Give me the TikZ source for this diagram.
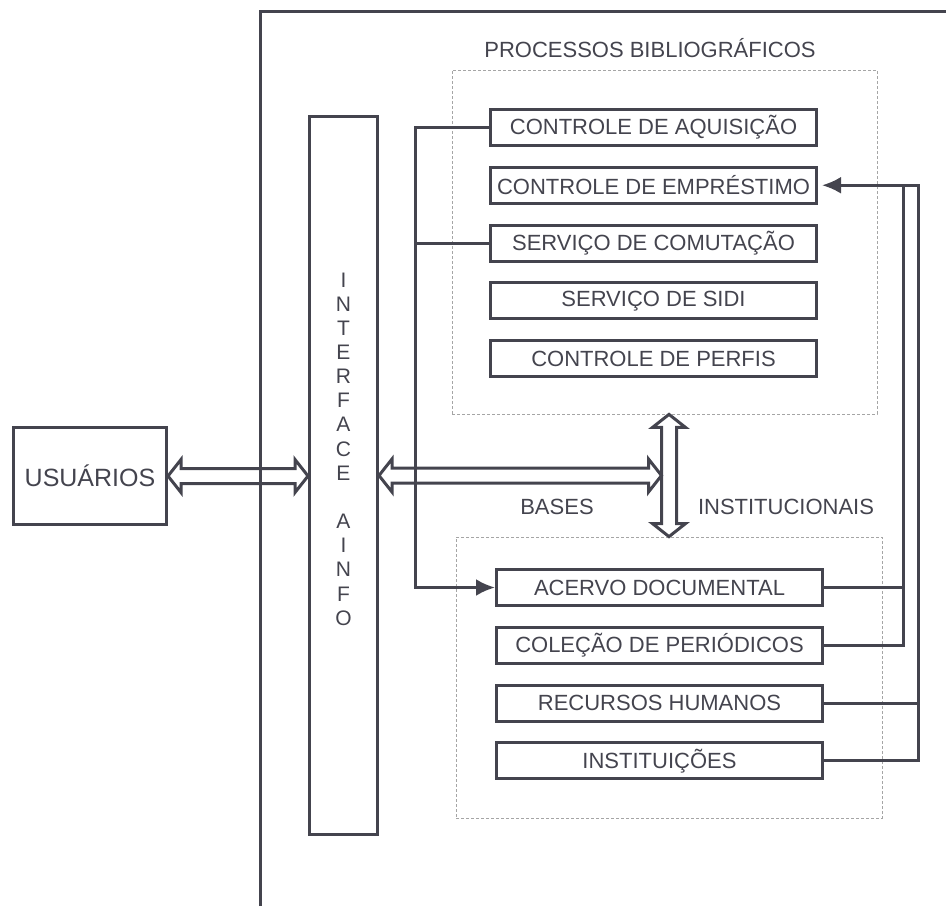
\documentclass[tikz,border=0pt]{standalone}
\usepackage{fontspec}
\setmainfont{Liberation Sans}
\usetikzlibrary{arrows.meta, positioning, calc}
\definecolor{ink}{RGB}{68,68,78}
\definecolor{dashgray}{RGB}{165,165,165}

\begin{document}
\begin{tikzpicture}[x=1pt, y=-1pt,
            node distance=18.75pt,
            every node/.style={text=ink, font=\fontsize{22}{26}\selectfont},
            block/.style={rectangle, draw=ink, line width=3pt, minimum width=326pt, minimum height=36pt, inner sep=0pt},
            group/.style={rectangle, draw=dashgray, line width=0.8pt, dash pattern=on 3pt off 2pt},
            link/.style={draw=ink, line width=3pt},
            arrow/.style={link, -{Latex[length=19pt, width=17pt]}},
            hollow/.style={draw=ink, line width=3pt, line join=miter}]
            \useasboundingbox (0,0) rectangle (946,906);
            % nodes
            \node [block, minimum width=153pt, minimum height=97pt, font=\fontsize{25}{28}\selectfont] (usuarios) at (90,476) {USUÁRIOS};
            \node [block, minimum width=68pt, minimum height=718pt] (interface) at (343.5,475.5) {};
            \node [align=center, font=\fontsize{21}{24.15}\selectfont] (ainfo) at ([yshift=26.5pt]interface.center) {I\\N\\T\\E\\R\\F\\A\\C\\E\\[24.15pt]A\\I\\N\\F\\O};
            % processos
            \node [group, minimum width=425pt, minimum height=344pt] (procbox) at (664.5,242) {};
            \node (proctitle) at (650,48) {PROCESSOS BIBLIOGRÁFICOS};
            \node [block] (aquis) at (653.5,127.5) {CONTROLE DE AQUISIÇÃO};
            \node [block, below=of aquis] (emprest) {CONTROLE DE EMPRÉSTIMO};
            \node [block, below=of emprest] (comut) {SERVIÇO DE COMUTAÇÃO};
            \node [block, below=of comut] (sidi) {SERVIÇO DE SIDI};
            \node [block, below=of sidi] (perfis) {CONTROLE DE PERFIS};
            % bases
            \node [group, minimum width=426pt, minimum height=281pt] (basebox) at (669,677.5) {};
            \node (basestitle) at (557,507) {BASES};
            \node (insttitle) at (786,507) {INSTITUCIONAIS};
            \node [block] (acervo) at (659.5,587.5) {ACERVO DOCUMENTAL};
            \node [block, below=of acervo] (colecao) {COLEÇÃO DE PERIÓDICOS};
            \node [block, below=of colecao] (recursos) {RECURSOS HUMANOS};
            \node [block, below=of recursos] (instit) {INSTITUIÇÕES};
            % frame
            \draw [link] (260,906) -- (260,11) -- (946,11);
            % double arrows
            \coordinate (vtop) at ([xshift=4.5pt]procbox.south);
            \coordinate (vbot) at (basebox.north);
            \coordinate (usrtip) at (interface.west |- usuarios.east);
            \coordinate (midtip) at ($(vtop |- interface.east)+(-7.5,0)$);
            \draw [hollow] (vtop) -- ++(16.5,13) -- ++(-9,0) -- ($(vbot)+(7.5,-13)$) -- ++(9,0) -- (vbot)
                -- ++(-16.5,-13) -- ++(9,0) -- ($(vtop)+(-7.5,13)$) -- ++(-9,0) -- cycle;
            \draw [hollow] (usuarios.east) -- ++(13,-16.5) -- ++(0,9) -- ($(usrtip)+(-13,-7.5)$) -- ++(0,-9) -- (usrtip)
                -- ++(-13,16.5) -- ++(0,-9) -- ($(usuarios.east)+(13,7.5)$) -- ++(0,9) -- cycle;
            \draw [hollow] (interface.east) -- ++(13,-16.5) -- ++(0,9) -- ($(midtip)+(-13,-7.5)$) -- ++(0,-9) -- (midtip)
                -- ++(-13,16.5) -- ++(0,-9) -- ($(interface.east)+(13,7.5)$) -- ++(0,9) -- cycle;
            % Connections
            \coordinate (lbus) at ([xshift=-74pt]aquis.west);
            \coordinate (rbusA) at ([xshift=79pt]acervo.east);
            \coordinate (rbusB) at ([xshift=94pt]acervo.east);
            \draw [arrow] (aquis.west) -- (lbus) |- (acervo.west);
            \draw [link] (comut.west) -- (comut.west -| lbus);
            \draw [link] (acervo.east) -- (acervo.east -| rbusA);
            \draw [link] (colecao.east) -| (rbusA |- emprest.east);
            \draw [link] (recursos.east) -- (recursos.east -| rbusB);
            \draw [arrow, shorten >=4pt] (instit.east) -| (rbusB |- emprest.east) -- (emprest.east);
        \end{tikzpicture}
\end{document}
